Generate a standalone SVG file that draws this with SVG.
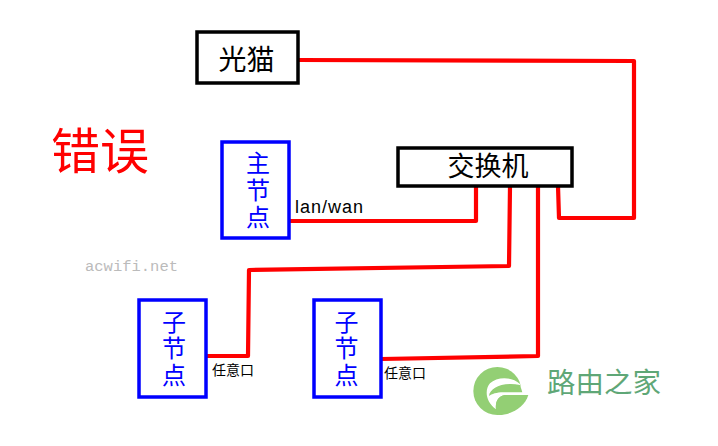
<svg xmlns="http://www.w3.org/2000/svg" width="718" height="446" viewBox="0 0 718 446">
<style>
.cjk{font-family:"Noto Sans CJK SC","Liberation Sans",sans-serif}
.box{fill:#fff;stroke:#000;stroke-width:3.5}
.blue{fill:#fff;stroke:#0000ff;stroke-width:3.5}
.bt{font-size:24px;fill:#0000ff;text-anchor:middle}
.bk{font-size:28px;fill:#000;text-anchor:middle}
.sm{font-size:14px;fill:#000}
.wire{fill:none;stroke:#ff0000;stroke-width:4.2;stroke-linejoin:round}
.lg{fill:#93cf74}
</style>
<rect width="718" height="446" fill="#fff"/>
<g id="connectors">
<polyline class="wire" points="298,60 634,61 634,218 559,218 558,186"/>
<polyline class="wire" points="289,221 476,221 476,186"/>
<polyline class="wire" points="510,186 509,266 249,270 248,356 207,356"/>
<polyline class="wire" points="538,186 538,356 381,359"/>
</g>
<g id="modem"><rect class="box" x="197" y="32" width="101" height="51"/><text class="cjk bk" x="246.500" y="70">光猫</text></g>
<g id="switch"><rect class="box" x="398" y="148" width="174" height="38"/><text class="cjk" x="488" y="176" font-size="27" text-anchor="middle">交换机</text></g>
<g id="main-node"><rect class="blue" x="222" y="142" width="67" height="96"/>
<text class="cjk bt"><tspan x="258" y="172">主</tspan><tspan x="258" y="199">节</tspan><tspan x="258" y="226">点</tspan></text></g>
<g id="sub-node-1"><rect class="blue" x="139" y="300" width="67" height="97"/>
<text class="cjk bt"><tspan x="174" y="331">子</tspan><tspan x="174" y="357">节</tspan><tspan x="174" y="384">点</tspan></text></g>
<g id="sub-node-2"><rect class="blue" x="314" y="300" width="67" height="97"/>
<text class="cjk bt"><tspan x="346.500" y="331">子</tspan><tspan x="346.500" y="357">节</tspan><tspan x="346.500" y="384">点</tspan></text></g>
<text x="295" y="213" font-family="Liberation Sans,sans-serif" font-size="18" letter-spacing="1" fill="#000">lan/wan</text>
<text class="cjk sm" x="212" y="375">任意口</text>
<text class="cjk sm" x="384" y="378">任意口</text>
<text class="cjk" x="51" y="169" font-size="49" fill="#ff0000">错误</text>
<text x="85" y="271" font-family="Liberation Mono,monospace" font-size="15.500" fill="#bbb">acwifi.net</text>
<g id="logo">
<g transform="translate(465 360) scale(.3333)">
<circle class="lg" cx="97" cy="93" r="72"/>
<path fill="#fff" d="M165,72 C140,48 95,50 75,70 C58,90 62,125 93,148 C90,125 100,108 120,105 L190,105 L190,97 L172,97 Z"/>
<path class="lg" d="M72,108 C75,85 110,65 165,75 L172,97 L115,97 C95,97 80,102 72,108 Z"/>
<path class="lg" d="M93,148 C90,125 100,108 120,105 L190,105 C180,140 140,165 100,165 Z"/>
</g>
<text class="cjk" x="547" y="393" font-size="28.500" fill="#5fa777">路由之家</text>
</g>
</svg>
